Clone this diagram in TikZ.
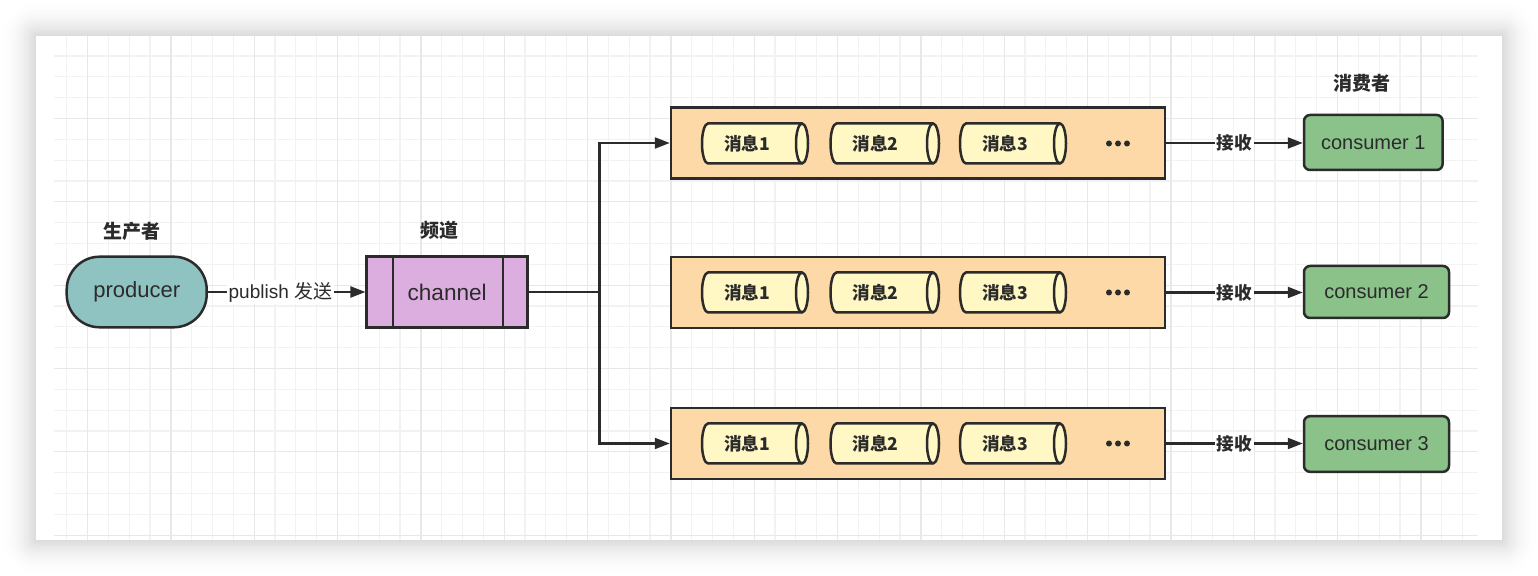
\documentclass[tikz,border=0pt]{standalone}
\usepackage{fontspec}
\setmainfont{Liberation Sans}
\newfontfamily\cjk{Noto Sans CJK SC}
\usetikzlibrary{arrows.meta}
\definecolor{ink}{HTML}{2B2B2B}
\definecolor{gridminor}{HTML}{F2F2F2}
\definecolor{gridmajor}{HTML}{E8E8E8}
\definecolor{prodfill}{HTML}{8FC3C2}
\definecolor{chanfill}{HTML}{DCAEDF}
\definecolor{queuefill}{HTML}{FCD9A6}
\definecolor{cylfill}{HTML}{FFF7C4}
\definecolor{consfill}{HTML}{8AC28A}
\newcommand\msgcyl[5]{% name, left x, center y, width, text
  \path[fill=cylfill, draw=ink, line width=1.25pt]
    ({#2+6},{-#3+20}) -- ({#2+#4-6},{-#3+20})
    arc[start angle=90, end angle=-90, x radius=6, y radius=20]
    -- ({#2+6},{-#3-20})
    arc[start angle=270, end angle=90, x radius=6, y radius=20] -- cycle;
  \draw[ink, line width=1.25pt] ({#2+#4-6},{-#3+20})
    arc[start angle=90, end angle=270, x radius=6, y radius=20];
  \node[cyltext] (#1) at ({#2+45},{-#3}) {#5};
}
\begin{document}
\begin{tikzpicture}[x=0.5pt,y=0.5pt,
  box/.style={draw=ink, line width=1.25pt, inner sep=0pt, text=ink},
  arr/.style={draw=ink, line width=1.1pt, -{Triangle[length=7.5pt,width=5.5pt]}},
  conn/.style={draw=ink, line width=1.1pt},
  lbl/.style={fill=white, inner sep=1pt, text=ink, font=\fontsize{9.5}{11}\selectfont},
  heading/.style={text=ink, font=\cjk\bfseries\fontsize{9.5}{11}\selectfont},
  cyltext/.style={text=ink, inner sep=0pt, font=\cjk\bfseries\fontsize{8.8}{10}\selectfont},
  queue/.style={box, fill=queuefill, minimum width=247pt, minimum height=35.5pt},
  cons/.style={box, fill=consfill, rounded corners=3pt, font=\fontsize{10}{12}\selectfont}
]
\fill[white] (0,0) rectangle (1538,-576);
\useasboundingbox (0,0) rectangle (1538,-576);
% panel shadow
\foreach \k in {15,14,...,1} {
  \pgfmathsetmacro\g{15*(1-\k/16)^2}
  \fill[black!\g, rounded corners={\k*1.2pt}]
    ({36-\k*2.4},{-36+\k*2.4}) rectangle ({1502+\k*2.4},{-540-\k*2.4});
}
\fill[white] (36,-36) rectangle (1502,-540);
% grid
\begin{scope}
  \clip (54,-36) rectangle (1478,-540);
  \foreach \i in {0,...,67}
    \draw[gridminor, line width=0.6pt] ({66.7+20.833*\i},-36) -- ++(0,-504);
  \foreach \j in {0,...,23}
    \draw[gridminor, line width=0.6pt] (54,{-56-20.833*\j}) -- ++(1424,0);
  \foreach \i in {0,...,16}
    \draw[gridmajor, line width=0.6pt] ({87.7+83.333*\i},-36) -- ++(0,-504);
  \foreach \j in {0,...,5}
    \draw[gridmajor, line width=0.6pt] (54,{-118.5-83.333*\j}) -- ++(1424,0);
\end{scope}
% headings
\node[heading] (hprod) at (132,-231) {生产者};
\node[heading] (hchan) at (439,-230) {频道};
\node[heading] (hcons) at (1362,-83) {消费者};
% producer
\node[box, fill=prodfill, rounded corners=16.5pt, minimum width=70pt, minimum height=35.3pt,
      font=\fontsize{11}{13}\selectfont] (prod) at (136.7,-292) {\raisebox{-0.5pt}{producer}};
% channel
\node[box, fill=chanfill, minimum width=80.5pt, minimum height=35.5pt,
      font=\fontsize{11.3}{13}\selectfont] (chan) at (447.2,-292) {channel};
\draw[ink, line width=1.25pt] ([xshift=13.7pt]chan.north west) -- ([xshift=13.7pt]chan.south west);
\draw[ink, line width=1.25pt] ([xshift=-13pt]chan.north east) -- ([xshift=-13pt]chan.south east);
\draw[arr] (prod.east) -- node[lbl, pos=0.46] {publish {\cjk 发送}} (chan.west);
% queues
\node[queue] (q1) at (918,-143) {};
\node[queue] (q2) at (918,-292.5) {};
\node[queue] (q3) at (918,-443.5) {};
\foreach \q/\y in {1/143.5, 2/292.5, 3/443.5} {
  \msgcyl{m\q a}{702}{\y}{106}{消息1}
  \msgcyl{m\q b}{830.5}{\y}{108.5}{消息2}
  \msgcyl{m\q c}{960}{\y}{106}{消息3}
  \node[inner sep=0pt, minimum size=3pt] (dots\q) at (1118,-\y) {};
  \fill[ink] (1109,-\y) circle (3) (1118,-\y) circle (3) (1127,-\y) circle (3);
}
% fan-out
\coordinate (j) at (599.5,-292);
\draw[conn] (chan.east) -- (j);
\draw[arr] (j) |- (q1.west);
\draw[arr] (j) |- (q3.west);
% consumers
\node[cons, minimum width=69.3pt, minimum height=27.5pt] (c1) at (1373.3,-142.5) {consumer 1};
\node[cons, minimum width=72.5pt, minimum height=26pt] (c2) at (1376.5,-292) {consumer 2};
\node[cons, minimum width=72.5pt, minimum height=27.8pt] (c3) at (1376.5,-444) {consumer 3};
\draw[arr] (q1.east) -- node[lbl, font=\cjk\bfseries\fontsize{8.8}{10}\selectfont] {接收} (q1.east -| c1.west);
\draw[arr] (q2.east) -- node[lbl, font=\cjk\bfseries\fontsize{8.8}{10}\selectfont] {接收} (q2.east -| c2.west);
\draw[arr] (q3.east) -- node[lbl, font=\cjk\bfseries\fontsize{8.8}{10}\selectfont] {接收} (q3.east -| c3.west);
\end{tikzpicture}
\end{document}
